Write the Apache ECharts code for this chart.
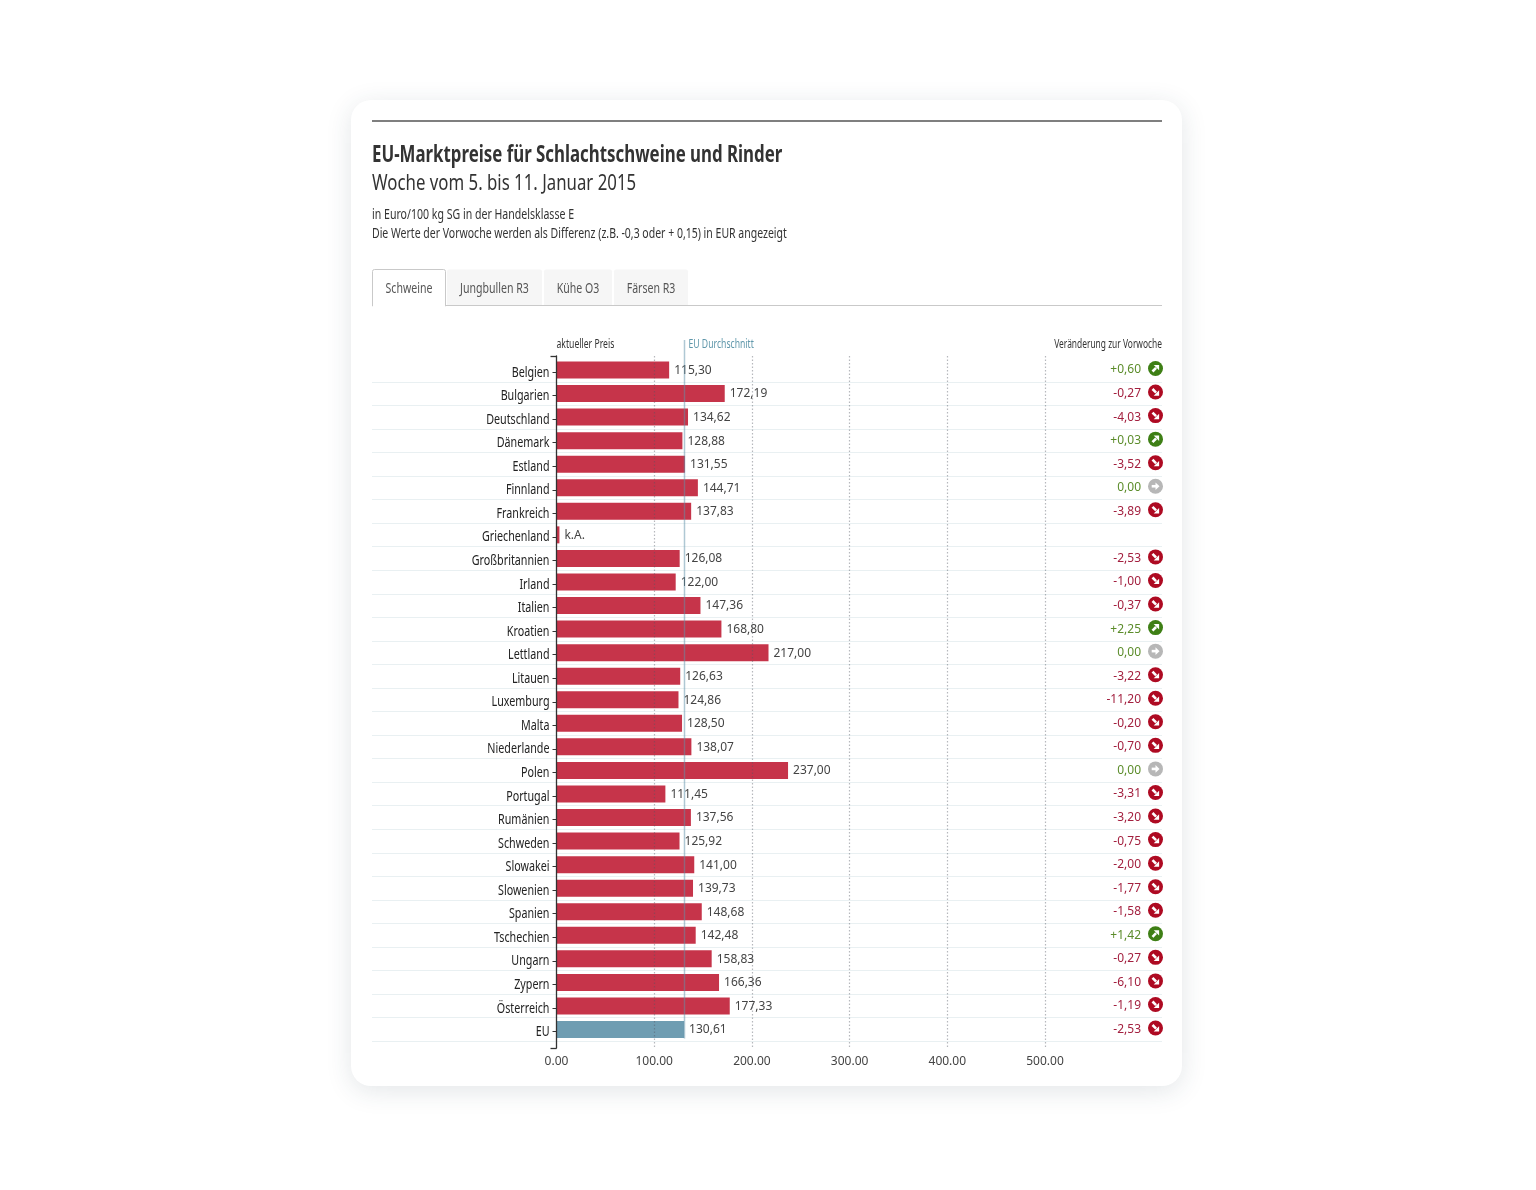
<!DOCTYPE html>
<html><head><meta charset="utf-8">
<style>html,body{margin:0;padding:0;background:#fff}#c{width:1536px;height:1190px}</style>
<script src="https://cdn.jsdelivr.net/npm/echarts@6/dist/echarts.min.js"></script>
</head><body><div id="c"></div>
<script>
const countries=["Belgien","Bulgarien","Deutschland","Dänemark","Estland","Finnland","Frankreich","Griechenland","Großbritannien","Irland","Italien","Kroatien","Lettland","Litauen","Luxemburg","Malta","Niederlande","Polen","Portugal","Rumänien","Schweden","Slowakei","Slowenien","Spanien","Tschechien","Ungarn","Zypern","Österreich","EU"];
const prices=[115.30,172.19,134.62,128.88,131.55,144.71,137.83,3,126.08,122.00,147.36,168.80,217.00,126.63,124.86,128.50,138.07,237.00,111.45,137.56,125.92,141.00,139.73,148.68,142.48,158.83,166.36,177.33,130.61];
const priceLabels=["115,30","172,19","134,62","128,88","131,55","144,71","137,83","k.A.","126,08","122,00","147,36","168,80","217,00","126,63","124,86","128,50","138,07","237,00","111,45","137,56","125,92","141,00","139,73","148,68","142,48","158,83","166,36","177,33","130,61"];
const changes=["+0,60","-0,27","-4,03","+0,03","-3,52","0,00","-3,89","","-2,53","-1,00","-0,37","+2,25","0,00","-3,22","-11,20","-0,20","-0,70","0,00","-3,31","-3,20","-0,75","-2,00","-1,77","-1,58","+1,42","-0,27","-6,10","-1,19","-2,53"];
const euAverage=130.61;
const tabs=["Schweine","Jungbullen R3","Kühe O3","Färsen R3"];

const SANS='"Noto Sans",sans-serif';
const RED='#c6344a',BLUE='#6f9db2';
const L0=556.5,PW=488.5,RL=372,RR=1162;
const W=1536,H=1190;
const bandTop=358.2,bandH=683.1;

function txt(x,y,text,font,fill,align,sx){return {type:'text',silent:true,x,y,scaleX:sx||1,style:{x:0,y:0,text,font,fill,align:align||'left',verticalAlign:'middle'},z:5};}
const tabBoxes=[[372,446],[447,542],[544,612],[614,688]];
const graphics=[
 {type:'rect',shape:{x:351,y:100,width:831,height:986,r:20},style:{fill:'#fff',shadowBlur:26,shadowColor:'rgba(40,60,80,0.13)',shadowOffsetY:5},z:-10},
 {type:'rect',shape:{x:RL,y:120.2,width:RR-RL,height:1.6},style:{fill:'#555'},z:1},
 txt(RL,155,'EU-Marktpreise für Schlachtschweine und Rinder','bold 23.5px '+SANS,'#333','left',0.717),
 txt(RL,184,'Woche vom 5. bis 11. Januar 2015','21px '+SANS,'#333','left',0.8),
 txt(RL,215,'in Euro/100 kg SG in der Handelsklasse E','14px '+SANS,'#333','left',0.755),
 txt(RL,234,'Die Werte der Vorwoche werden als Differenz (z.B. -0,3 oder + 0,15) in EUR angezeigt','14px '+SANS,'#333','left',0.75),
 {type:'rect',shape:{x:RL,y:305,width:RR-RL,height:1},style:{fill:'#c9c9c9'},z:1}
];
tabs.forEach((t,i)=>{
 const b=tabBoxes[i],active=i===0;
 graphics.push({type:'rect',shape:{x:b[0]+(active?.5:0),y:269.5,width:b[1]-b[0]-(active?1:0),height:active?36.5:35.5,r:[2,2,0,0]},
  style:{fill:active?'#fff':'#f6f6f6',stroke:active?'#c9c9c9':null,lineWidth:1},z:2});
 if(active)graphics.push({type:'rect',shape:{x:b[0]+1,y:303,width:b[1]-b[0]-2,height:4},style:{fill:'#fff'},z:3});
 graphics.push(txt((b[0]+b[1])/2,289,t,'14px '+SANS,'#555','center',0.755));
});
graphics.push(txt(L0,344.5,'aktueller Preis','12px '+SANS,'#333','left',0.72));
graphics.push(txt(RR,344.5,'Veränderung zur Vorwoche','12px '+SANS,'#333','right',0.7));

const gridBase={containLabel:false};
const hiddenY=(g)=>({type:'category',gridIndex:g,data:countries,inverse:true,axisLine:{show:false},axisTick:{show:false},axisLabel:{show:false},splitLine:{show:false}});

const option={
 animation:false,
 graphic:graphics,
 grid:[
  {...gridBase,left:L0,top:356,width:PW,height:692},
  {...gridBase,left:L0,top:bandTop+2,width:PW,height:bandH},
  {...gridBase,left:L0,top:bandTop,width:PW,height:bandH},
  {...gridBase,left:RL,top:bandTop,width:RR-RL,height:bandH}
 ],
 xAxis:[
  {type:'value',gridIndex:0,min:0,max:500,interval:100,z:6,
   axisLine:{show:false},axisTick:{show:false},
   splitLine:{show:true,showMinLine:false,lineStyle:{color:'rgba(80,85,95,0.42)',type:[1.5,2],width:1.2}},
   axisLabel:{margin:8,fontFamily:SANS,fontSize:12,color:'#444',formatter:v=>v.toFixed(2)}},
  {type:'value',gridIndex:1,min:0,max:500,show:false},
  {type:'value',gridIndex:2,min:0,max:500,show:false},
  {type:'value',gridIndex:3,min:0,max:1,show:false}
 ],
 yAxis:[
  {type:'value',gridIndex:0,min:0,max:1,interval:1,z:6,position:'left',
   axisLine:{show:true,lineStyle:{color:'#333',width:1.3}},
   axisTick:{show:true,length:6,lineStyle:{color:'#333',width:1.3}},
   axisLabel:{show:false},splitLine:{show:false}},
  {type:'category',gridIndex:1,data:countries,inverse:true,z:6,
   axisLine:{show:false},
   axisTick:{show:true,alignWithLabel:true,length:4,lineStyle:{color:'#333',width:1}},
   axisLabel:{show:false},splitLine:{show:false}},
  hiddenY(2),
  {...hiddenY(3),splitLine:{show:true,interval:0,showMinLine:false,showMaxLine:true,lineStyle:{color:'#e9f0f2',width:1}}}
 ],
 series:[
  {type:'custom',name:'Länder',xAxisIndex:1,yAxisIndex:1,z:4,clip:false,silent:true,
   data:countries.map((c,i)=>[0,i]),
   renderItem:(params,api)=>{
    const p=api.coord([0,params.dataIndex]);
    return {type:'text',x:p[0]-7,y:p[1]+.5,scaleX:0.74,style:{x:0,y:0,text:countries[params.dataIndex],font:'14.5px '+SANS,fill:'#222',align:'right',verticalAlign:'middle'}};
   }},
  {type:'bar',name:'aktueller Preis',xAxisIndex:2,yAxisIndex:2,barWidth:17,z:2,
   data:prices.map((v,i)=>({value:v,itemStyle:{color:countries[i]==='EU'?BLUE:RED}})),
   label:{show:true,position:'right',distance:4.5,offset:[0.5,0.5],fontFamily:SANS,fontSize:12,color:'#444',
    formatter:p=>priceLabels[p.dataIndex]}},
  {type:'custom',name:'EU Durchschnitt',xAxisIndex:2,yAxisIndex:2,z:4,clip:false,silent:true,
   data:[[euAverage,countries.length-1]],
   renderItem:(params,api)=>{
    const p=api.coord([api.value(0),api.value(1)]);
    const x=Math.floor(p[0])+.5;
    return {type:'group',children:[
     {type:'line',shape:{x1:x,y1:340,x2:x,y2:p[1]+9},style:{stroke:'rgba(95,145,170,0.5)',lineWidth:1.5}},
     {type:'text',x:x+4,y:344.5,scaleX:0.72,style:{x:0,y:0,text:'EU Durchschnitt',font:'12px '+SANS,fill:'#5f97aa',verticalAlign:'middle'}}
    ]};
   }},
  {type:'custom',name:'Veränderung zur Vorwoche',xAxisIndex:3,yAxisIndex:3,z:4,clip:false,silent:true,
   data:changes.map((c,i)=>[1,i]),
   renderItem:(params,api)=>{
    const c=changes[params.dataIndex];
    if(!c)return {type:'group',children:[]};
    const p=api.coord([1,params.dataIndex]);
    const y=p[1], ix=p[0]-6.5, iy=y-1.5;
    const up=c[0]==='+', flat=parseFloat(c.replace(',','.'))===0, color=flat?'#b7b7b7':up?'#3e7f15':'#ae0a22';
    const tc=(up||flat)?'#5b8c2a':'#a3203f';
    const shaft=flat?[[-3.8,0],[1,0]]:up?[[-3,3],[0.6,-0.6]]:[[-3,-3],[0.6,0.6]];
    const head=flat?[[0,-3.8],[4,0],[0,3.8]]:up?[[-1.8,-3.6],[3.6,-3.6],[3.6,1.8]]:[[3.6,-1.8],[3.6,3.6],[-1.8,3.6]];
    return {type:'group',children:[
     {type:'text',style:{x:p[0]-21,y:y,text:c,font:'12px '+SANS,fill:tc,align:'right',verticalAlign:'middle'}},
     {type:'circle',shape:{cx:ix,cy:iy,r:7.5},style:{fill:color}},
     {type:'line',shape:{x1:ix+shaft[0][0],y1:iy+shaft[0][1],x2:ix+shaft[1][0],y2:iy+shaft[1][1]},style:{stroke:'#fff',lineWidth:2.6}},
     {type:'polygon',shape:{points:head.map(q=>[ix+q[0],iy+q[1]])},style:{fill:'#fff'}}
    ]};
   }}
 ]
};
const chart=echarts.init(document.getElementById('c'),null,{width:W,height:H});
chart.setOption(option);
</script></body></html>
